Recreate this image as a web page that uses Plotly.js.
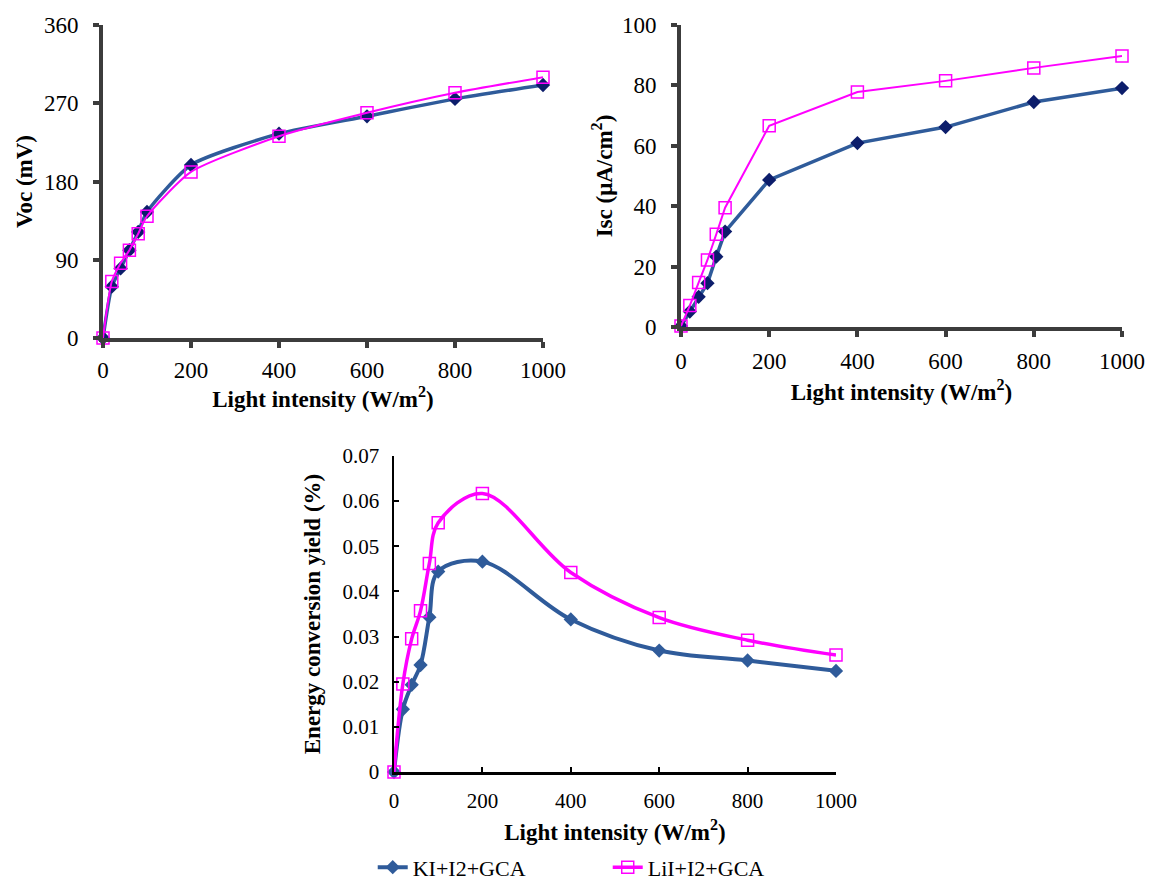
<!DOCTYPE html>
<html>
<head>
<meta charset="utf-8">
<script src="https://cdn.plot.ly/plotly-3.0.1.min.js"></script>
<style>html,body{margin:0;padding:0;background:#fff}#chart{width:1151px;height:883px}</style>
</head>
<body>
<div id="chart"></div>
<script>
// ---- data ----
const intensity = [0, 20, 40, 60, 80, 100, 200, 400, 600, 800, 1000];
const seriesNames = ['KI+I2+GCA', 'LiI+I2+GCA'];
const vocKI  = [0, 59, 80, 101, 122, 145, 199, 235, 255, 275, 291];
const vocLiI = [0, 65, 86, 101, 120, 140, 191, 232, 259, 282, 300];
const iscKI  = [0.3, 5.1, 10.0, 14.5, 23.3, 31.6, 48.7, 60.9, 66.2, 74.5, 79.1];
const iscLiI = [0.3, 7.1, 14.7, 22.2, 30.7, 39.5, 66.6, 77.8, 81.5, 85.8, 89.7];
const effKI  = [0, 0.0139, 0.0193, 0.0237, 0.0343, 0.0444, 0.0466, 0.0338, 0.0269, 0.0247, 0.0224];
const effLiI = [0, 0.0195, 0.0295, 0.0357, 0.0462, 0.0552, 0.0617, 0.0442, 0.0342, 0.0292, 0.0259];
const xTicks = [0, 200, 400, 600, 800, 1000];
const vocTicks = [0, 90, 180, 270, 360];
const iscTicks = [0, 20, 40, 60, 80, 100];
const effTicks = [0, 0.01, 0.02, 0.03, 0.04, 0.05, 0.06, 0.07];

const BLUE = '#2f5b9a', NAVY = '#0c1d6b', PINK = '#ff00ff';
const SERIF = '"Liberation Serif", "Times New Roman", serif';

function blue(x, y, xa, ya, opts) {
  return Object.assign({
    x: x, y: y, xaxis: xa, yaxis: ya, type: 'scatter', mode: 'lines+markers',
    name: seriesNames[0], showlegend: false, cliponaxis: false,
    line: {color: BLUE, width: 3.5},
    marker: {symbol: 'diamond', size: 11, color: NAVY}
  }, opts || {});
}
function pink(x, y, xa, ya, opts) {
  return Object.assign({
    x: x, y: y, xaxis: xa, yaxis: ya, type: 'scatter', mode: 'lines+markers',
    name: seriesNames[1], showlegend: false, cliponaxis: false,
    line: {color: PINK, width: 2},
    marker: {symbol: 'square-open', size: 12, color: PINK, line: {color: PINK, width: 1.5}}
  }, opts || {});
}

const traces = [
  blue(intensity, vocKI, 'x', 'y', {line: {color: BLUE, width: 3.5, shape: 'spline', smoothing: 0.6}}),
  pink(intensity, vocLiI, 'x', 'y', {line: {color: PINK, width: 2, shape: 'spline', smoothing: 0.6}}),
  blue(intensity, iscKI, 'x2', 'y2'),
  pink(intensity, iscLiI, 'x2', 'y2'),
  blue(intensity, effKI, 'x3', 'y3', {showlegend: true,
    line: {color: BLUE, width: 4, shape: 'spline', smoothing: 1},
    marker: {symbol: 'diamond', size: 11, color: BLUE}}),
  pink(intensity, effLiI, 'x3', 'y3', {showlegend: true,
    line: {color: PINK, width: 3.5, shape: 'spline', smoothing: 1}})
];

const topTickFont = {family: SERIF, size: 23, color: '#000'};
const botTickFont = {family: SERIF, size: 21, color: '#000'};
const titleFont = {family: SERIF, size: 23, color: '#000', weight: 'bold'};
function topAxis(extra) {
  return Object.assign({
    showline: true, linecolor: '#3c3c3c', linewidth: 4,
    ticks: 'outside', ticklen: 6, tickwidth: 4, tickcolor: '#3c3c3c',
    showgrid: false, zeroline: false, tickfont: topTickFont, fixedrange: true,
    automargin: false
  }, extra);
}
function botAxis(extra) {
  return Object.assign({
    showline: true, linecolor: '#000', linewidth: 2.5,
    ticks: 'inside', ticklen: 5, tickwidth: 2, tickcolor: '#000',
    showgrid: false, zeroline: false, tickfont: botTickFont, fixedrange: true,
    automargin: false
  }, extra);
}

const layout = {
  width: 1151, height: 883,
  margin: {l: 0, r: 0, t: 0, b: 0, autoexpand: false},
  paper_bgcolor: '#fff', plot_bgcolor: '#fff',
  font: {family: SERIF, color: '#000'},
  showlegend: true,
  legend: {orientation: 'h', x: 0.528, xanchor: 'center', y: 0.0415, yanchor: 'top',
           font: {family: SERIF, size: 22, color: '#000'}, entrywidth: 190,
           bgcolor: 'rgba(0,0,0,0)'},
  xaxis: topAxis({domain: [103/1151, 543/1151], anchor: 'y', range: [0, 1000], tickvals: xTicks,
    ticklabelstandoff: 2,
    title: {text: 'Light intensity (W/m<sup>2</sup>)', font: titleFont, standoff: 10}}),
  yaxis: topAxis({domain: [1 - 338/883, 1 - 25/883], anchor: 'x', range: [0, 360], tickvals: vocTicks,
    ticklabelstandoff: 10,
    title: {text: 'Voc (mV)', font: titleFont, standoff: 6}}),
  xaxis2: topAxis({domain: [681/1151, 1122/1151], anchor: 'y2', range: [0, 1000], tickvals: xTicks,
    ticklabelstandoff: 4,
    title: {text: 'Light intensity (W/m<sup>2</sup>)', font: titleFont, standoff: 12}}),
  yaxis2: topAxis({domain: [1 - 327/883, 1 - 25/883], anchor: 'x2', range: [0, 100], tickvals: iscTicks,
    ticklabelstandoff: 10,
    title: {text: 'Isc (μA/cm<sup>2</sup>)', font: titleFont, standoff: 4}}),
  xaxis3: botAxis({domain: [394/1151, 836/1151], anchor: 'y3', range: [0, 1000], tickvals: xTicks,
    ticklabelstandoff: 8,
    title: {text: 'Light intensity (W/m<sup>2</sup>)', font: titleFont, standoff: 12}}),
  yaxis3: botAxis({domain: [1 - 772/883, 1 - 456/883], anchor: 'x3', range: [0, 0.07], tickvals: effTicks,
    ticktext: effTicks.map(v => v === 0 ? '0' : v.toFixed(2)), ticklabelstandoff: 8,
    title: {text: 'Energy conversion yield (%)', font: titleFont, standoff: 16}})
};

Plotly.newPlot('chart', traces, layout, {staticPlot: true, displayModeBar: false});
</script>
</body>
</html>
